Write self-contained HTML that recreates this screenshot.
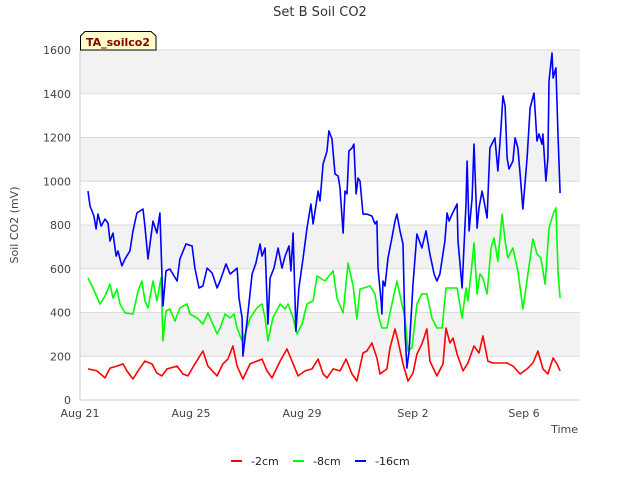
<!DOCTYPE html>
<html><head><meta charset="utf-8"><style>
body{margin:0;background:#fff;font-family:"DejaVu Sans","Liberation Sans",sans-serif;}
svg text{font-family:"DejaVu Sans","Liberation Sans",sans-serif;}
</style></head><body>
<svg id="chart" width="640" height="480" xmlns="http://www.w3.org/2000/svg">
<text x="320" y="16" text-anchor="middle" font-size="13" fill="#333">Set B Soil CO2</text>
<g id="bands"></g><g id="grid"></g>
<line x1="80" y1="50" x2="80" y2="400" stroke="#ccc"/>
<line x1="80" y1="400" x2="580" y2="400" stroke="#ccc"/>
<g id="yticks"></g><g id="xticks"></g><g id="series"></g>
<text transform="translate(18,225) rotate(-90)" text-anchor="middle" font-size="11" fill="#444">Soil CO2 (mV)</text>
<text x="578" y="433" text-anchor="end" font-size="11" fill="#444">Time</text>
<g>
<path d="M80.5,50 L80.5,36 L85,31.5 L151,31.5 L156,36 L156,50 Z" fill="#ffffcc" stroke="#000"/>
<text x="118" y="46" text-anchor="middle" font-size="11" font-weight="bold" fill="#8b0000">TA_soilco2</text>
</g>
<g>
<line x1="231" y1="461" x2="242" y2="461" stroke="#f00" stroke-width="2"/>
<text x="251" y="465" font-size="11" fill="#222">-2cm</text>
<line x1="293" y1="461" x2="304" y2="461" stroke="#0f0" stroke-width="2"/>
<text x="313" y="465" font-size="11" fill="#222">-8cm</text>
<line x1="355" y1="461" x2="366" y2="461" stroke="#00f" stroke-width="2"/>
<text x="375" y="465" font-size="11" fill="#222">-16cm</text>
</g>
</svg>
<script>
const yTicks=[0,200,400,600,800,1000,1200,1400,1600];
const xTickDays=[0,4,8,12,16];
const xTickLabels=["Aug 21","Aug 25","Aug 29","Sep 2","Sep 6"];
const blueDays=[0.29,0.36,0.50,0.58,0.65,0.76,0.90,1.01,1.08,1.19,1.30,1.37,1.44,1.51,1.62,1.80,1.91,2.05,2.16,2.27,2.34,2.45,2.63,2.77,2.88,2.99,3.10,3.24,3.50,3.60,3.82,4.04,4.14,4.29,4.43,4.58,4.76,4.94,5.05,5.26,5.41,5.55,5.66,5.73,5.84,5.87,6.02,6.20,6.34,6.49,6.56,6.67,6.77,6.85,6.99,7.14,7.28,7.39,7.53,7.60,7.68,7.78,7.89,8.04,8.18,8.32,8.40,8.58,8.65,8.76,8.90,8.97,9.08,9.19,9.30,9.37,9.48,9.55,9.62,9.69,9.80,9.87,9.95,10.02,10.09,10.20,10.34,10.52,10.63,10.70,10.74,10.85,10.88,10.92,10.99,11.10,11.24,11.35,11.42,11.53,11.64,11.71,11.78,11.86,12.00,12.14,12.32,12.47,12.61,12.76,12.86,12.97,13.15,13.23,13.30,13.41,13.59,13.62,13.77,13.80,13.91,13.95,14.02,14.13,14.20,14.31,14.38,14.49,14.56,14.67,14.77,14.95,15.06,15.17,15.24,15.32,15.39,15.46,15.60,15.68,15.78,15.86,15.96,16.11,16.22,16.36,16.47,16.54,16.65,16.68,16.79,16.86,16.90,17.01,17.05,17.15,17.23,17.30];
const blueValues=[955,887,841,782,850,795,827,809,727,763,658,681,645,613,645,681,773,855,864,873,795,645,818,763,855,430,590,599,544,645,713,704,603,512,521,603,581,512,544,622,576,590,603,466,375,201,361,576,626,713,658,695,347,558,603,695,603,658,704,590,763,315,512,649,786,896,805,955,910,1079,1138,1230,1193,1033,1024,969,763,955,942,1138,1152,1170,942,1015,1001,850,850,841,805,818,603,453,393,544,521,649,741,818,850,773,713,315,146,224,530,759,695,773,667,576,544,576,727,855,818,850,896,727,512,603,896,1092,773,923,1170,786,878,955,910,832,1152,1198,1047,1243,1390,1344,1106,1056,1092,1198,1152,1033,873,1106,1335,1403,1184,1216,1170,1216,1001,1106,1458,1586,1472,1518,1198,946];
const greenDays=[0.29,0.47,0.72,0.90,1.08,1.19,1.33,1.44,1.62,1.91,2.09,2.23,2.34,2.45,2.63,2.77,2.92,2.99,3.10,3.24,3.42,3.60,3.86,3.96,4.22,4.43,4.61,4.79,4.94,5.05,5.23,5.41,5.55,5.66,5.84,5.95,6.13,6.38,6.56,6.67,6.77,6.95,7.21,7.39,7.50,7.68,7.82,8.00,8.18,8.40,8.54,8.83,9.12,9.26,9.48,9.66,9.84,9.98,10.09,10.45,10.63,10.74,10.88,11.06,11.24,11.42,11.60,11.71,11.82,11.96,12.14,12.32,12.50,12.68,12.86,13.05,13.19,13.41,13.59,13.77,13.91,13.98,14.09,14.20,14.31,14.41,14.52,14.67,14.81,14.92,15.06,15.21,15.32,15.42,15.60,15.78,15.96,16.14,16.32,16.47,16.61,16.76,16.90,17.05,17.15,17.23,17.30];
const greenValues=[558,512,439,475,530,466,507,439,398,393,498,544,453,421,544,453,558,270,407,416,361,421,439,393,375,347,398,347,302,329,393,375,393,329,270,302,375,421,439,375,270,375,439,416,439,375,302,347,439,453,567,544,590,466,398,626,521,370,507,521,485,393,329,329,439,544,439,375,224,238,439,485,485,375,329,329,512,512,512,375,512,453,576,718,485,576,558,485,695,741,635,850,727,649,695,590,416,576,736,667,649,530,786,850,878,576,466];
const redDays=[0.29,0.61,0.90,1.08,1.33,1.55,1.69,1.91,2.09,2.34,2.59,2.77,2.95,3.14,3.50,3.71,3.89,4.14,4.43,4.61,4.94,5.15,5.33,5.51,5.66,5.87,6.13,6.38,6.56,6.74,6.92,7.21,7.46,7.64,7.86,8.11,8.36,8.58,8.76,8.90,9.12,9.37,9.59,9.80,9.98,10.20,10.34,10.52,10.70,10.81,11.06,11.17,11.35,11.46,11.64,11.82,12.00,12.14,12.32,12.50,12.61,12.86,13.08,13.19,13.33,13.44,13.59,13.80,13.98,14.20,14.38,14.52,14.70,14.88,15.14,15.39,15.60,15.86,16.11,16.32,16.50,16.68,16.86,17.05,17.19,17.30];
const redValues=[142,133,101,146,155,165,133,96,133,178,165,123,110,142,155,119,110,165,224,155,110,165,187,247,155,96,165,178,187,133,101,178,233,178,110,133,142,187,119,101,142,133,187,119,87,215,224,261,192,119,142,238,325,270,165,87,123,210,256,325,178,110,165,329,261,283,210,133,169,247,215,293,178,169,169,169,155,119,142,169,224,142,119,192,165,133];

const NS="http://www.w3.org/2000/svg";
const X0=80,X1=580,Y0=400,Y1=50;
const xScale=d=>X0+d*27.75;
const yScale=v=>Y0+(Y1-Y0)*v/1600;
function mk(tag,attrs,parent){const e=document.createElementNS(NS,tag);for(const k in attrs)e.setAttribute(k,attrs[k]);parent.appendChild(e);return e;}
const bands=document.getElementById('bands'),grid=document.getElementById('grid');
for(let i=0;i<yTicks.length-1;i++){
  if(i%2===1){
    const r=mk('rect',{x:X0,y:yScale(yTicks[i+1]),width:X1-X0,height:yScale(yTicks[i])-yScale(yTicks[i+1]),fill:'#f2f2f2'},bands);
    
    
  }
}
const yt=document.getElementById('yticks');
yTicks.forEach(v=>{
  const l=mk('line',{x1:X0,x2:X1,y1:yScale(v),y2:yScale(v),stroke:'#dcdcdc'},grid);
  
  
  const t=mk('text',{x:71,y:yScale(v)+4,'text-anchor':'end','font-size':'11',fill:'#444'},yt);
  t.textContent=v;
  
  
});
const xt=document.getElementById('xticks');
xTickDays.forEach((d,i)=>{
  const t=mk('text',{x:xScale(d),y:417,'text-anchor':'middle','font-size':'11',fill:'#444'},xt);
  t.textContent=xTickLabels[i];
  
  
});
const sg=document.getElementById('series');
function draw(days,vals,color,name){
  const pts=days.map((d,i)=>xScale(d).toFixed(1)+','+yScale(vals[i]).toFixed(1)).join(' ');
  const p=mk('polyline',{points:pts,fill:'none',stroke:color,'stroke-width':'1.6','stroke-linejoin':'round'},sg);
  
  
}
draw(redDays,redValues,'#ff0000','series-2cm-line');
draw(greenDays,greenValues,'#00ff00','series-8cm-line');
draw(blueDays,blueValues,'#0000ff','series-16cm-line');
</script>
</body></html>
